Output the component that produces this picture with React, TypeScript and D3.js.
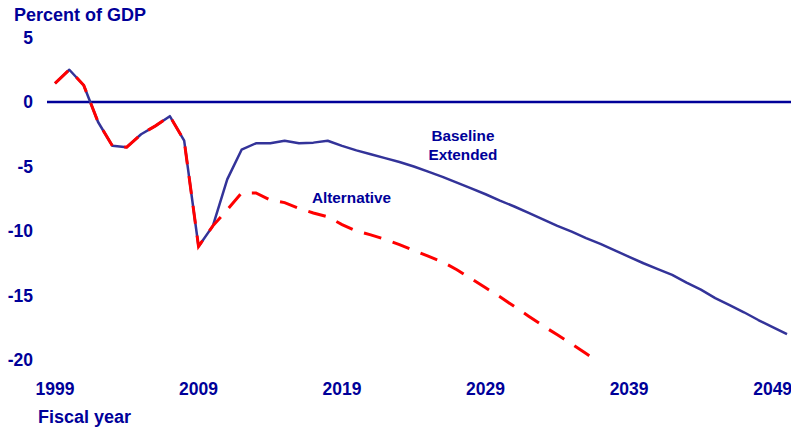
import React from "react";
import * as d3 from "d3";

const years: number[] = d3.range(1999, 2051);
const baseline: number[] = [
  1.45, 2.5, 1.3, -1.55, -3.4, -3.5, -2.5, -1.85, -1.1, -3.0,
  -11.2, -9.6, -6.0, -3.7, -3.2, -3.2, -3.0, -3.2, -3.15, -3.0,
  -3.4, -3.75, -4.05, -4.35, -4.65, -5.0, -5.4, -5.8, -6.25, -6.7,
  -7.15, -7.65, -8.1, -8.6, -9.1, -9.6, -10.05, -10.55, -11.0, -11.5,
  -12.0, -12.5, -12.95, -13.4, -14.0, -14.55, -15.2, -15.75, -16.3, -16.9,
  -17.45, -18.0,
];
const alternativeYears: number[] = d3.range(1999, 2038);
const alternative: number[] = [
  1.45, 2.5, 1.3, -1.55, -3.4, -3.5, -2.5, -1.85, -1.1, -3.0,
  -11.2, -9.6, -8.35, -7.05, -7.05, -7.6, -7.8, -8.25, -8.6, -8.9,
  -9.5, -10.0, -10.3, -10.65, -11.05, -11.5, -11.95, -12.4, -13.0, -13.7,
  -14.4, -15.1, -15.85, -16.6, -17.35, -18.05, -18.75, -19.5, -20.25,
];
const yTicks: number[] = [5, 0, -5, -10, -15, -20];
const xTicks: number[] = [1999, 2009, 2019, 2029, 2039, 2049];

const W = 791;
const H = 432;
const NAVY = "#000099";
const FONT = "'Liberation Sans', Arial, sans-serif";

export default function App() {
  const x = d3.scaleLinear().domain([1999, 2050]).range([55, 787]);
  const y = d3.scaleLinear().domain([-20, 5]).range([360, 37.5]);

  const line = d3
    .line<[number, number]>()
    .x((d) => x(d[0]))
    .y((d) => y(d[1]));

  const basePts: [number, number][] = years.map((yr, i) => [yr, baseline[i]]);
  const altPts: [number, number][] = alternativeYears.map((yr, i) => [yr, alternative[i]]);

  return (
    <svg
      width={W}
      height={H}
      style={{ position: "absolute", left: 0, top: 0, background: "#fff" }}
      fontFamily={FONT}
    >
      <defs>
        <clipPath id="plot">
          <rect x={0} y={0} width={W} height={y(-20)} />
        </clipPath>
      </defs>
      <rect x={0} y={0} width={W} height={H} fill="#fff" />
      <text x={14} y={21} fontSize={18} fontWeight="bold" fill={NAVY}>
        Percent of GDP
      </text>
      {yTicks.map((t) => (
        <text
          key={t}
          x={33}
          y={y(t) + 6}
          textAnchor="end"
          fontSize={17.5}
          fontWeight="bold"
          fill={NAVY}
        >
          {t}
        </text>
      ))}
      {xTicks.map((t) => (
        <text
          key={t}
          x={x(t)}
          y={395}
          textAnchor="middle"
          fontSize={17.5}
          fontWeight="bold"
          fill={NAVY}
        >
          {t}
        </text>
      ))}
      <text x={38} y={423} fontSize={18} fontWeight="bold" fill={NAVY}>
        Fiscal year
      </text>
      <line x1={47} x2={W} y1={y(0)} y2={y(0)} stroke={NAVY} strokeWidth={2.5} />
      <g clipPath="url(#plot)">
        <path d={line(basePts) || ""} fill="none" stroke="#333399" strokeWidth={2.5} strokeLinejoin="round" />
        <path
          d={line(altPts) || ""}
          fill="none"
          stroke="#ff0000"
          strokeWidth={3}
          strokeDasharray="18,12"
        />
      </g>
      <text x={463} y={141} textAnchor="middle" fontSize={15.3} fontWeight="bold" fill={NAVY}>
        Baseline
      </text>
      <text x={463} y={159.5} textAnchor="middle" fontSize={15.3} fontWeight="bold" fill={NAVY}>
        Extended
      </text>
      <text x={351.5} y={203} textAnchor="middle" fontSize={15.3} fontWeight="bold" fill={NAVY}>
        Alternative
      </text>
    </svg>
  );
}
